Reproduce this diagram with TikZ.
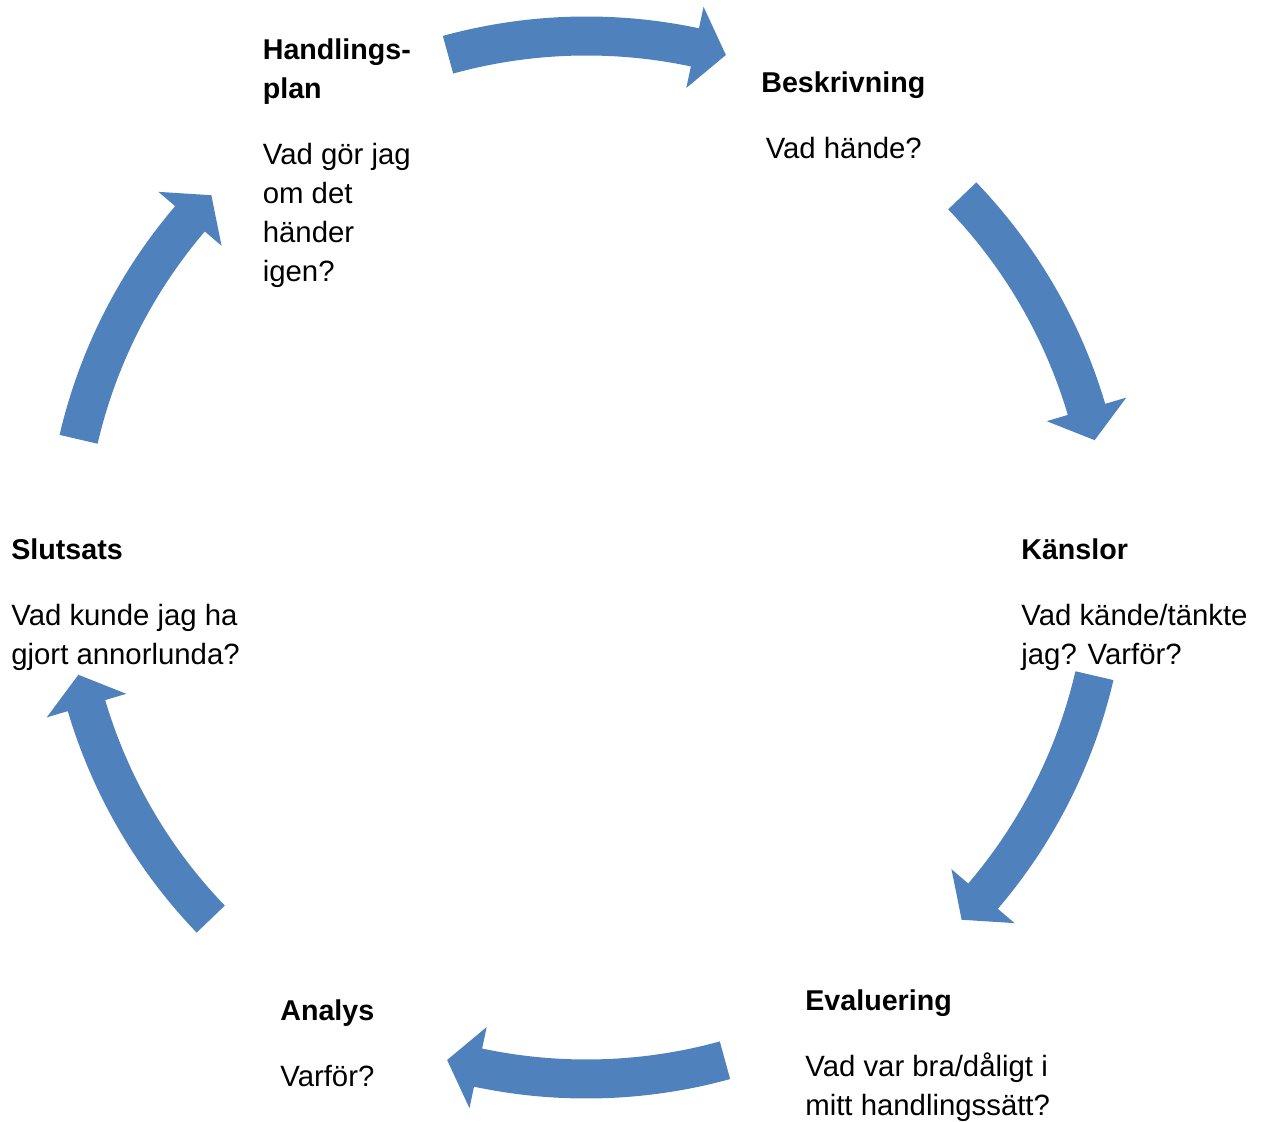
\documentclass[tikz,border=0pt]{standalone}
\usepackage{fontspec}
\setmainfont{Liberation Sans}
\definecolor{arrowblue}{HTML}{4F81BD}
\newcommand{\stagetitle}[1]{{\fontsize{16.3}{22.2}\selectfont\bfseries #1}}

\begin{document}
\begin{tikzpicture}[x=0.02cm, y=0.02cm]
        \tikzstyle{stagetext} = [anchor=north west, align=left, inner sep=0pt, font=\fontsize{16.7}{22.2}\selectfont]
        \tikzstyle{cyclefill} = [fill=arrowblue]

        \useasboundingbox (0,0) rectangle (1264,1122);
        \coordinate (hub) at (586.5,564.5);

        \node [stagetext] (plan) at (262.5,1089.8) {\strut\stagetitle{Handlings-}\\\stagetitle{plan}\\[15.4pt]Vad gör jag\\om det\\händer\\igen?};
        \node [stagetext] (beskr) at (761,1056.8) {\strut\stagetitle{Beskrivning}\\[15.4pt]\hspace*{2.5pt}Vad hände?};
        \node [stagetext] (kansl) at (1021,589.8) {\strut\stagetitle{Känslor}\\[15.4pt]Vad kände/tänkte\\jag? Varför?};
        \node [stagetext] (eval) at (805,138.8) {\strut\stagetitle{Evaluering}\\[15.4pt]Vad var bra/dåligt i\\mitt handlingssätt?};
        \node [stagetext] (anal) at (280,128.8) {\strut\stagetitle{Analys}\\[15.4pt]Varför?};
        \node [stagetext] (slut) at (11,589.8) {\strut\stagetitle{Slutsats}\\[15.4pt]Vad kunde jag ha\\gjort annorlunda?};

        % Curved arrows, clockwise round the hub
        \foreach \c in {90,28.5,-28.5,-90,-151.5,151.5} {
            \pgfmathsetmacro{\ta}{\c+15.4}
            \pgfmathsetmacro{\ha}{\c-12}
            \pgfmathsetmacro{\pa}{\c-15.5}
            \fill [cyclefill, shift={(hub)}] (\ta:541) arc[start angle=\ta, end angle=\ha, radius=541]
                -- (\ha:563) -- (\pa:521.5) -- (\ha:480) -- (\ha:502)
                arc[start angle=\ha, end angle=\ta, radius=502] -- cycle;
        }
\end{tikzpicture}
\end{document}
